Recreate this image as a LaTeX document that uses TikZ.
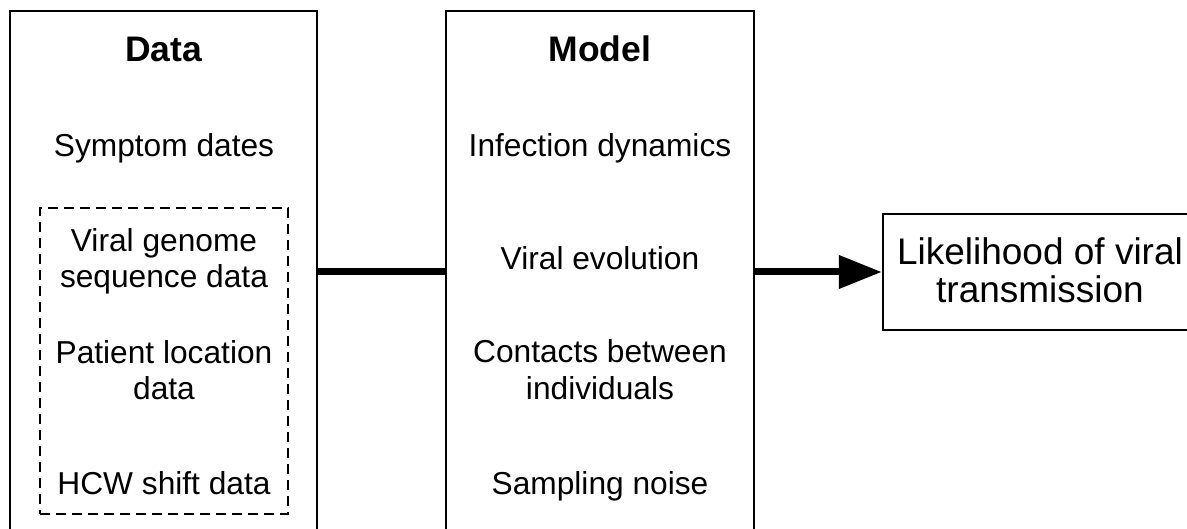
\documentclass[tikz,border=0pt]{standalone}
\usepackage{fontspec}
\setmainfont{Liberation Sans}
\usetikzlibrary{arrows.meta}
\begin{document}
\begin{tikzpicture}[x=1pt,y=-1pt,
  panel/.style={draw=black,line width=2.3pt,rectangle,inner sep=0pt},
  groupbox/.style={draw=black,line width=2.3pt,dash pattern=on 10pt off 6pt,rectangle,inner sep=0pt},
  heading/.style={anchor=base,inner sep=0pt,font=\fontsize{35.5}{40}\selectfont\bfseries},
  item/.style={anchor=base,inner sep=0pt,font=\fontsize{31.7}{36}\selectfont},
  result/.style={anchor=base,inner sep=0pt,font=\fontsize{37}{38}\selectfont},
  link/.style={line width=7pt}
]
\clip (0,0) rectangle (1187,529);
\fill[white] (0,0) rectangle (1187,529);
% boxes
\node[panel,minimum width=307pt,minimum height=580pt] (data) at (163.5,301) {};
\node[panel,minimum width=308pt,minimum height=580pt] (model) at (600,301) {};
\node[panel,minimum width=340pt,minimum height=116pt] (res) at (1053,272) {};
\node[groupbox,minimum width=248pt,minimum height=306pt] (grp) at (164,361) {};
\coordinate (mid) at (0,272);
% connectors
\draw[link] (data.east |- mid) -- (model.west |- mid);
\draw[link,-{Triangle[length=43pt,width=32pt]}] (model.east |- mid) -- (res.west);
% texts
\node[heading] (tdata) at (163.5,62) {Data};
\node[heading] (tmodel) at (600,62) {Model};
\node[item] (t1) at (164,157) {Symptom dates};
\node[item] (t2a) at (164,252) {Viral genome};
\node[item] (t2b) at (164,288) {sequence data};
\node[item] (t3a) at (164,364) {Patient location};
\node[item] (t3b) at (164,400) {data};
\node[item] (t4) at (164,494) {HCW shift data};
\node[item] (m1) at (600,157) {Infection dynamics};
\node[item] (m2) at (600,270) {Viral evolution};
\node[item] (m3a) at (600,363) {Contacts between};
\node[item] (m3b) at (600,400) {individuals};
\node[item] (m4) at (600,494) {Sampling noise};
\node[result] (r1) at (1040,265) {Likelihood of viral};
\node[result] (r2) at (1040,303) {transmission};
\end{tikzpicture}
\end{document}
